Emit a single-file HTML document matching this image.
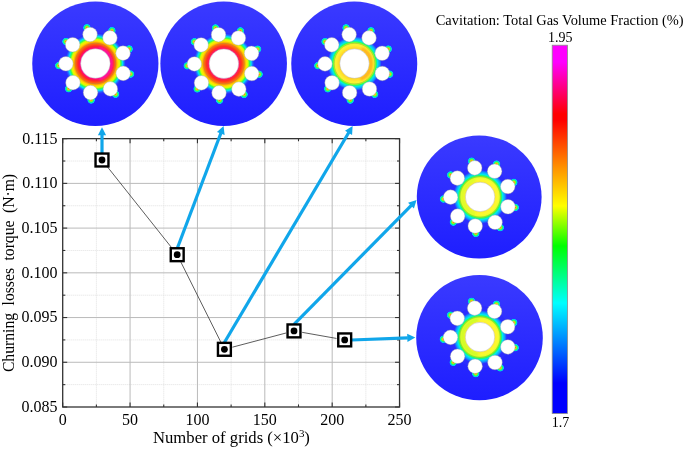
<!DOCTYPE html>
<html lang="en"><head><meta charset="utf-8"><title>Grid independence</title>
<style>html,body{margin:0;padding:0;background:#fff}svg{display:block}text{font-family:"Liberation Serif","Times New Roman",serif;fill:#000}</style></head><body>
<svg width="685" height="449" viewBox="0 0 685 449">
<defs>
<linearGradient id="bg" x1="0" y1="0" x2="0" y2="1"><stop offset="0" stop-color="#3a3aff"/><stop offset="1" stop-color="#1e1eff"/></linearGradient>
<radialGradient id="r1" gradientUnits="objectBoundingBox" cx="0.5" cy="0.5" r="0.5"><stop offset="0" stop-color="#ff10a0"/><stop offset="0.4742" stop-color="#ff10a0"/><stop offset="0.5129" stop-color="#ff1060"/><stop offset="0.5581" stop-color="#ff2828"/><stop offset="0.6194" stop-color="#ff5a10"/><stop offset="0.6710" stop-color="#ff9800"/><stop offset="0.7258" stop-color="#ffe000"/><stop offset="0.7774" stop-color="#d8ff00"/><stop offset="0.8258" stop-color="#30ff50"/><stop offset="0.8774" stop-color="#00e0ff"/><stop offset="0.9258" stop-color="#2070ff"/><stop offset="0.9742" stop-color="#2c2cff"/></radialGradient>
<radialGradient id="r2" gradientUnits="objectBoundingBox" cx="0.5" cy="0.5" r="0.5"><stop offset="0" stop-color="#ff1880"/><stop offset="0.4742" stop-color="#ff1880"/><stop offset="0.5129" stop-color="#ff2048"/><stop offset="0.5581" stop-color="#ff3020"/><stop offset="0.6194" stop-color="#ff6010"/><stop offset="0.6710" stop-color="#ffa000"/><stop offset="0.7258" stop-color="#ffe400"/><stop offset="0.7774" stop-color="#d8ff00"/><stop offset="0.8258" stop-color="#30ff50"/><stop offset="0.8774" stop-color="#00e0ff"/><stop offset="0.9258" stop-color="#2070ff"/><stop offset="0.9742" stop-color="#2c2cff"/></radialGradient>
<radialGradient id="r3" gradientUnits="objectBoundingBox" cx="0.5" cy="0.5" r="0.5"><stop offset="0" stop-color="#ffd428"/><stop offset="0.4742" stop-color="#ffd428"/><stop offset="0.5323" stop-color="#ffe02c"/><stop offset="0.5806" stop-color="#ffee30"/><stop offset="0.6323" stop-color="#f4f830"/><stop offset="0.6645" stop-color="#b0ff20"/><stop offset="0.6968" stop-color="#30ff50"/><stop offset="0.7419" stop-color="#00e8e8"/><stop offset="0.8065" stop-color="#10a0ff"/><stop offset="0.8710" stop-color="#2c2cff"/><stop offset="0.9355" stop-color="#2c2cff"/></radialGradient>
<radialGradient id="r4" gradientUnits="objectBoundingBox" cx="0.5" cy="0.5" r="0.5"><stop offset="0" stop-color="#fff030"/><stop offset="0.4742" stop-color="#fff030"/><stop offset="0.5645" stop-color="#fcf830"/><stop offset="0.6194" stop-color="#e8ff28"/><stop offset="0.6548" stop-color="#98ff20"/><stop offset="0.6871" stop-color="#20ff60"/><stop offset="0.7290" stop-color="#00e8f0"/><stop offset="0.7935" stop-color="#10a0ff"/><stop offset="0.8645" stop-color="#2c2cff"/><stop offset="0.9355" stop-color="#2c2cff"/></radialGradient>
<radialGradient id="sp"><stop offset="0" stop-color="#ff4000"/><stop offset="0.2" stop-color="#ffc800"/><stop offset="0.42" stop-color="#70ff30"/><stop offset="0.62" stop-color="#00f0a0"/><stop offset="0.82" stop-color="#00c8ff"/><stop offset="1" stop-color="#2c2cff" stop-opacity="0"/></radialGradient><filter id="bl" x="-50%" y="-50%" width="200%" height="200%"><feGaussianBlur stdDeviation="0.8"/></filter>
<linearGradient id="cb" x1="0" y1="0" x2="0" y2="1"><stop offset="0.0000" stop-color="#ff00ff"/><stop offset="0.0456" stop-color="#ff00ff"/><stop offset="0.1868" stop-color="#ff0000"/><stop offset="0.2031" stop-color="#ff0000"/><stop offset="0.3307" stop-color="#ff9000"/><stop offset="0.4366" stop-color="#ffff00"/><stop offset="0.5452" stop-color="#00ff00"/><stop offset="0.7000" stop-color="#00ffff"/><stop offset="0.9172" stop-color="#0000ff"/><stop offset="1.0000" stop-color="#0000ff"/></linearGradient>
</defs>
<rect width="685" height="449" fill="#fff"/>
<g><line x1="96.39" y1="138.65" x2="96.39" y2="407.0" stroke="#e0e0e0" stroke-width="1" stroke-dasharray="1 1"/><line x1="163.75" y1="138.65" x2="163.75" y2="407.0" stroke="#e0e0e0" stroke-width="1" stroke-dasharray="1 1"/><line x1="231.12" y1="138.65" x2="231.12" y2="407.0" stroke="#e0e0e0" stroke-width="1" stroke-dasharray="1 1"/><line x1="298.50" y1="138.65" x2="298.50" y2="407.0" stroke="#e0e0e0" stroke-width="1" stroke-dasharray="1 1"/><line x1="365.87" y1="138.65" x2="365.87" y2="407.0" stroke="#e0e0e0" stroke-width="1" stroke-dasharray="1 1"/><line x1="62.7" y1="161.01" x2="399.55" y2="161.01" stroke="#e0e0e0" stroke-width="1" stroke-dasharray="1 1"/><line x1="62.7" y1="205.74" x2="399.55" y2="205.74" stroke="#e0e0e0" stroke-width="1" stroke-dasharray="1 1"/><line x1="62.7" y1="250.46" x2="399.55" y2="250.46" stroke="#e0e0e0" stroke-width="1" stroke-dasharray="1 1"/><line x1="62.7" y1="295.19" x2="399.55" y2="295.19" stroke="#e0e0e0" stroke-width="1" stroke-dasharray="1 1"/><line x1="62.7" y1="339.91" x2="399.55" y2="339.91" stroke="#e0e0e0" stroke-width="1" stroke-dasharray="1 1"/><line x1="62.7" y1="384.64" x2="399.55" y2="384.64" stroke="#e0e0e0" stroke-width="1" stroke-dasharray="1 1"/><line x1="130.07" y1="138.65" x2="130.07" y2="407.0" stroke="#bababa" stroke-width="1"/><line x1="197.44" y1="138.65" x2="197.44" y2="407.0" stroke="#bababa" stroke-width="1"/><line x1="264.81" y1="138.65" x2="264.81" y2="407.0" stroke="#bababa" stroke-width="1"/><line x1="332.18" y1="138.65" x2="332.18" y2="407.0" stroke="#bababa" stroke-width="1"/><line x1="62.7" y1="183.38" x2="399.55" y2="183.38" stroke="#bababa" stroke-width="1"/><line x1="62.7" y1="228.10" x2="399.55" y2="228.10" stroke="#bababa" stroke-width="1"/><line x1="62.7" y1="272.83" x2="399.55" y2="272.83" stroke="#bababa" stroke-width="1"/><line x1="62.7" y1="317.55" x2="399.55" y2="317.55" stroke="#bababa" stroke-width="1"/><line x1="62.7" y1="362.28" x2="399.55" y2="362.28" stroke="#bababa" stroke-width="1"/></g>
<g stroke="#333" stroke-width="1.1"><line x1="62.70" y1="407.0" x2="62.70" y2="402.5"/><line x1="62.70" y1="138.65" x2="62.70" y2="143.15"/><line x1="96.39" y1="407.0" x2="96.39" y2="404.4"/><line x1="96.39" y1="138.65" x2="96.39" y2="141.25"/><line x1="130.07" y1="407.0" x2="130.07" y2="402.5"/><line x1="130.07" y1="138.65" x2="130.07" y2="143.15"/><line x1="163.75" y1="407.0" x2="163.75" y2="404.4"/><line x1="163.75" y1="138.65" x2="163.75" y2="141.25"/><line x1="197.44" y1="407.0" x2="197.44" y2="402.5"/><line x1="197.44" y1="138.65" x2="197.44" y2="143.15"/><line x1="231.12" y1="407.0" x2="231.12" y2="404.4"/><line x1="231.12" y1="138.65" x2="231.12" y2="141.25"/><line x1="264.81" y1="407.0" x2="264.81" y2="402.5"/><line x1="264.81" y1="138.65" x2="264.81" y2="143.15"/><line x1="298.50" y1="407.0" x2="298.50" y2="404.4"/><line x1="298.50" y1="138.65" x2="298.50" y2="141.25"/><line x1="332.18" y1="407.0" x2="332.18" y2="402.5"/><line x1="332.18" y1="138.65" x2="332.18" y2="143.15"/><line x1="365.87" y1="407.0" x2="365.87" y2="404.4"/><line x1="365.87" y1="138.65" x2="365.87" y2="141.25"/><line x1="399.55" y1="407.0" x2="399.55" y2="402.5"/><line x1="399.55" y1="138.65" x2="399.55" y2="143.15"/><line x1="62.7" y1="407.00" x2="67.2" y2="407.00"/><line x1="399.55" y1="407.00" x2="395.05" y2="407.00"/><line x1="62.7" y1="384.64" x2="65.3" y2="384.64"/><line x1="399.55" y1="384.64" x2="396.95" y2="384.64"/><line x1="62.7" y1="362.27" x2="67.2" y2="362.27"/><line x1="399.55" y1="362.27" x2="395.05" y2="362.27"/><line x1="62.7" y1="339.91" x2="65.3" y2="339.91"/><line x1="399.55" y1="339.91" x2="396.95" y2="339.91"/><line x1="62.7" y1="317.55" x2="67.2" y2="317.55"/><line x1="399.55" y1="317.55" x2="395.05" y2="317.55"/><line x1="62.7" y1="295.19" x2="65.3" y2="295.19"/><line x1="399.55" y1="295.19" x2="396.95" y2="295.19"/><line x1="62.7" y1="272.83" x2="67.2" y2="272.83"/><line x1="399.55" y1="272.83" x2="395.05" y2="272.83"/><line x1="62.7" y1="250.46" x2="65.3" y2="250.46"/><line x1="399.55" y1="250.46" x2="396.95" y2="250.46"/><line x1="62.7" y1="228.10" x2="67.2" y2="228.10"/><line x1="399.55" y1="228.10" x2="395.05" y2="228.10"/><line x1="62.7" y1="205.74" x2="65.3" y2="205.74"/><line x1="399.55" y1="205.74" x2="396.95" y2="205.74"/><line x1="62.7" y1="183.37" x2="67.2" y2="183.37"/><line x1="399.55" y1="183.37" x2="395.05" y2="183.37"/><line x1="62.7" y1="161.01" x2="65.3" y2="161.01"/><line x1="399.55" y1="161.01" x2="396.95" y2="161.01"/><line x1="62.7" y1="138.65" x2="67.2" y2="138.65"/><line x1="399.55" y1="138.65" x2="395.05" y2="138.65"/></g>
<rect x="62.7" y="138.65" width="336.85" height="268.35" fill="none" stroke="#333" stroke-width="1.3"/>
<text x="62.70" y="425.3" font-size="16" text-anchor="middle">0</text>
<text x="130.07" y="425.3" font-size="16" text-anchor="middle">50</text>
<text x="197.44" y="425.3" font-size="16" text-anchor="middle">100</text>
<text x="264.81" y="425.3" font-size="16" text-anchor="middle">150</text>
<text x="332.18" y="425.3" font-size="16" text-anchor="middle">200</text>
<text x="399.55" y="425.3" font-size="16" text-anchor="middle">250</text>
<text x="57.6" y="143.55" font-size="16" text-anchor="end">0.115</text>
<text x="57.6" y="188.28" font-size="16" text-anchor="end">0.110</text>
<text x="57.6" y="233.00" font-size="16" text-anchor="end">0.105</text>
<text x="57.6" y="277.73" font-size="16" text-anchor="end">0.100</text>
<text x="57.6" y="322.45" font-size="16" text-anchor="end">0.095</text>
<text x="57.6" y="367.18" font-size="16" text-anchor="end">0.090</text>
<text x="57.6" y="411.90" font-size="16" text-anchor="end">0.085</text>
<text transform="translate(231.45 442.6) scale(1.042 1)" font-size="16" text-anchor="middle">Number of grids (×10<tspan font-size="10.5" dy="-6">3</tspan><tspan dy="6">)</tspan></text>
<text transform="translate(14.3 273) rotate(-90) scale(1 1.06)" font-size="15.7" word-spacing="3.5" text-anchor="middle">Churning losses torque (N·m)</text>
<g stroke="#333" stroke-width="0.8"><line x1="107.16" y1="166.50" x2="172.04" y2="248.20"/><line x1="180.91" y1="262.13" x2="220.69" y2="341.87"/><line x1="232.42" y1="347.18" x2="285.98" y2="333.02"/><line x1="302.17" y1="332.35" x2="336.53" y2="338.45"/></g>
<ellipse cx="95.35" cy="63.75" rx="63.1" ry="62.2" fill="url(#bg)"/><circle cx="95.4" cy="63.5" r="31.0" fill="url(#r1)"/><path d="M99.64 79.34A16.4 16.4 0 0 0 99.64 47.66" fill="none" stroke="#ff10b8" stroke-width="2.4" stroke-opacity="0.85" stroke-linecap="round" filter="url(#bl)"/><circle cx="95.4" cy="63.5" r="20.3" fill="none" stroke="#807060" stroke-opacity="0.55" stroke-width="0.5"/><circle cx="129.13" cy="48.98" r="4.2" fill="url(#sp)"/><circle cx="111.90" cy="30.69" r="4.2" fill="url(#sp)"/><circle cx="86.96" cy="27.76" r="4.2" fill="url(#sp)"/><circle cx="65.96" cy="41.55" r="4.2" fill="url(#sp)"/><circle cx="58.74" cy="65.61" r="4.2" fill="url(#sp)"/><circle cx="68.67" cy="88.68" r="4.2" fill="url(#sp)"/><circle cx="91.11" cy="99.97" r="4.2" fill="url(#sp)"/><circle cx="115.56" cy="94.20" r="4.2" fill="url(#sp)"/><circle cx="130.57" cy="74.06" r="4.2" fill="url(#sp)"/><g fill="#fff" stroke="#999" stroke-width="0.4"><circle cx="123.03" cy="53.17" r="7.3"/><circle cx="109.93" cy="37.82" r="7.3"/><circle cx="90.02" cy="34.49" r="7.3"/><circle cx="72.64" cy="44.74" r="7.3"/><circle cx="65.90" cy="63.76" r="7.3"/><circle cx="72.97" cy="82.66" r="7.3"/><circle cx="90.53" cy="92.60" r="7.3"/><circle cx="110.37" cy="88.92" r="7.3"/><circle cx="123.21" cy="73.35" r="7.3"/></g><circle cx="95.4" cy="63.5" r="14.75" fill="#fff" stroke="#aaa" stroke-width="0.4"/>
<ellipse cx="223.65" cy="63.75" rx="63.3" ry="62.3" fill="url(#bg)"/><circle cx="223.9" cy="63.7" r="31.0" fill="url(#r2)"/><circle cx="223.9" cy="63.7" r="20.3" fill="none" stroke="#807060" stroke-opacity="0.55" stroke-width="0.5"/><circle cx="257.63" cy="49.18" r="4.2" fill="url(#sp)"/><circle cx="240.40" cy="30.89" r="4.2" fill="url(#sp)"/><circle cx="215.46" cy="27.96" r="4.2" fill="url(#sp)"/><circle cx="194.46" cy="41.75" r="4.2" fill="url(#sp)"/><circle cx="187.24" cy="65.81" r="4.2" fill="url(#sp)"/><circle cx="197.17" cy="88.88" r="4.2" fill="url(#sp)"/><circle cx="219.61" cy="100.17" r="4.2" fill="url(#sp)"/><circle cx="244.06" cy="94.40" r="4.2" fill="url(#sp)"/><circle cx="259.07" cy="74.26" r="4.2" fill="url(#sp)"/><g fill="#fff" stroke="#999" stroke-width="0.4"><circle cx="251.53" cy="53.37" r="7.3"/><circle cx="238.43" cy="38.02" r="7.3"/><circle cx="218.52" cy="34.69" r="7.3"/><circle cx="201.14" cy="44.94" r="7.3"/><circle cx="194.40" cy="63.96" r="7.3"/><circle cx="201.47" cy="82.86" r="7.3"/><circle cx="219.03" cy="92.80" r="7.3"/><circle cx="238.87" cy="89.12" r="7.3"/><circle cx="251.71" cy="73.55" r="7.3"/></g><circle cx="223.9" cy="63.7" r="14.75" fill="#fff" stroke="#aaa" stroke-width="0.4"/>
<ellipse cx="354.25" cy="63.75" rx="63.0" ry="62.3" fill="url(#bg)"/><circle cx="354.5" cy="63.6" r="31.0" fill="url(#r3)"/><path d="M361.60 78.83A16.8 16.8 0 0 0 362.90 49.05" fill="none" stroke="#ffa418" stroke-width="3.2" stroke-opacity="0.8" stroke-linecap="round" filter="url(#bl)"/><circle cx="354.5" cy="63.6" r="20.3" fill="none" stroke="#807060" stroke-opacity="0.55" stroke-width="0.5"/><circle cx="388.23" cy="49.08" r="4.2" fill="url(#sp)"/><circle cx="371.00" cy="30.79" r="4.2" fill="url(#sp)"/><circle cx="346.06" cy="27.86" r="4.2" fill="url(#sp)"/><circle cx="325.06" cy="41.65" r="4.2" fill="url(#sp)"/><circle cx="317.84" cy="65.71" r="4.2" fill="url(#sp)"/><circle cx="327.77" cy="88.78" r="4.2" fill="url(#sp)"/><circle cx="350.21" cy="100.07" r="4.2" fill="url(#sp)"/><circle cx="374.66" cy="94.30" r="4.2" fill="url(#sp)"/><circle cx="389.67" cy="74.16" r="4.2" fill="url(#sp)"/><g fill="#fff" stroke="#999" stroke-width="0.4"><circle cx="382.13" cy="53.27" r="7.3"/><circle cx="369.03" cy="37.92" r="7.3"/><circle cx="349.12" cy="34.59" r="7.3"/><circle cx="331.74" cy="44.84" r="7.3"/><circle cx="325.00" cy="63.86" r="7.3"/><circle cx="332.07" cy="82.76" r="7.3"/><circle cx="349.63" cy="92.70" r="7.3"/><circle cx="369.47" cy="89.02" r="7.3"/><circle cx="382.31" cy="73.45" r="7.3"/></g><circle cx="354.5" cy="63.6" r="14.75" fill="#fff" stroke="#aaa" stroke-width="0.4"/>
<ellipse cx="479.2" cy="197.0" rx="62.4" ry="61.6" fill="url(#bg)"/><circle cx="480.1" cy="196.9" r="31.0" fill="url(#r4)"/><path d="M474.08 180.36A17.6 17.6 0 0 0 474.08 213.44" fill="none" stroke="#c4ff24" stroke-width="3.0" stroke-opacity="0.6" stroke-linecap="round" filter="url(#bl)"/><circle cx="480.1" cy="196.9" r="20.3" fill="none" stroke="#807060" stroke-opacity="0.55" stroke-width="0.5"/><circle cx="513.83" cy="182.38" r="4.2" fill="url(#sp)"/><circle cx="496.60" cy="164.09" r="4.2" fill="url(#sp)"/><circle cx="471.66" cy="161.16" r="4.2" fill="url(#sp)"/><circle cx="450.66" cy="174.95" r="4.2" fill="url(#sp)"/><circle cx="443.44" cy="199.01" r="4.2" fill="url(#sp)"/><circle cx="453.37" cy="222.08" r="4.2" fill="url(#sp)"/><circle cx="475.81" cy="233.37" r="4.2" fill="url(#sp)"/><circle cx="500.26" cy="227.60" r="4.2" fill="url(#sp)"/><circle cx="515.27" cy="207.46" r="4.2" fill="url(#sp)"/><g fill="#fff" stroke="#999" stroke-width="0.4"><circle cx="507.73" cy="186.57" r="7.3"/><circle cx="494.63" cy="171.22" r="7.3"/><circle cx="474.72" cy="167.89" r="7.3"/><circle cx="457.34" cy="178.14" r="7.3"/><circle cx="450.60" cy="197.16" r="7.3"/><circle cx="457.67" cy="216.06" r="7.3"/><circle cx="475.23" cy="226.00" r="7.3"/><circle cx="495.07" cy="222.32" r="7.3"/><circle cx="507.91" cy="206.75" r="7.3"/></g><circle cx="480.1" cy="196.9" r="14.75" fill="#fff" stroke="#aaa" stroke-width="0.4"/>
<ellipse cx="479.5" cy="337.65" rx="63.3" ry="62.6" fill="url(#bg)"/><circle cx="480.0" cy="337.1" r="31.0" fill="url(#r4)"/><path d="M476.98 319.96A17.4 17.4 0 0 0 476.98 354.24" fill="none" stroke="#b8ff24" stroke-width="3.4" stroke-opacity="0.7" stroke-linecap="round" filter="url(#bl)"/><circle cx="480.0" cy="337.1" r="20.3" fill="none" stroke="#807060" stroke-opacity="0.55" stroke-width="0.5"/><circle cx="513.73" cy="322.58" r="4.2" fill="url(#sp)"/><circle cx="496.50" cy="304.29" r="4.2" fill="url(#sp)"/><circle cx="471.56" cy="301.36" r="4.2" fill="url(#sp)"/><circle cx="450.56" cy="315.15" r="4.2" fill="url(#sp)"/><circle cx="443.34" cy="339.21" r="4.2" fill="url(#sp)"/><circle cx="453.27" cy="362.28" r="4.2" fill="url(#sp)"/><circle cx="475.71" cy="373.57" r="4.2" fill="url(#sp)"/><circle cx="500.16" cy="367.80" r="4.2" fill="url(#sp)"/><circle cx="515.17" cy="347.66" r="4.2" fill="url(#sp)"/><g fill="#fff" stroke="#999" stroke-width="0.4"><circle cx="507.63" cy="326.77" r="7.3"/><circle cx="494.53" cy="311.42" r="7.3"/><circle cx="474.62" cy="308.09" r="7.3"/><circle cx="457.24" cy="318.34" r="7.3"/><circle cx="450.50" cy="337.36" r="7.3"/><circle cx="457.57" cy="356.26" r="7.3"/><circle cx="475.13" cy="366.20" r="7.3"/><circle cx="494.97" cy="362.52" r="7.3"/><circle cx="507.81" cy="346.95" r="7.3"/></g><circle cx="480.0" cy="337.1" r="14.75" fill="#fff" stroke="#aaa" stroke-width="0.4"/>
<line x1="102.00" y1="154.00" x2="102.00" y2="134.80" stroke="#10a6ea" stroke-width="3.2"/><polygon points="102.00,127.30 106.10,135.30 97.90,135.30" fill="#10a6ea"/>
<line x1="177.40" y1="248.00" x2="220.94" y2="133.01" stroke="#10a6ea" stroke-width="3.2"/><polygon points="223.60,126.00 224.60,134.93 216.93,132.03" fill="#10a6ea"/>
<line x1="224.40" y1="342.50" x2="348.78" y2="132.45" stroke="#10a6ea" stroke-width="3.2"/><polygon points="352.60,126.00 352.05,134.97 345.00,130.79" fill="#10a6ea"/>
<line x1="294.00" y1="324.30" x2="411.33" y2="205.34" stroke="#10a6ea" stroke-width="3.2"/><polygon points="416.60,200.00 413.90,208.57 408.06,202.82" fill="#10a6ea"/>
<line x1="351.50" y1="340.00" x2="407.81" y2="337.88" stroke="#10a6ea" stroke-width="3.2"/><polygon points="415.30,337.60 407.46,342.00 407.15,333.80" fill="#10a6ea"/>
<rect x="95.55" y="153.55" width="12.9" height="12.9" fill="#fff" stroke="#000" stroke-width="2.4"/><circle cx="102.0" cy="160.0" r="3.4" fill="#000"/>
<rect x="170.75" y="248.25" width="12.9" height="12.9" fill="#fff" stroke="#000" stroke-width="2.4"/><circle cx="177.2" cy="254.7" r="3.4" fill="#000"/>
<rect x="217.95" y="342.85" width="12.9" height="12.9" fill="#fff" stroke="#000" stroke-width="2.4"/><circle cx="224.4" cy="349.3" r="3.4" fill="#000"/>
<rect x="287.55" y="324.45" width="12.9" height="12.9" fill="#fff" stroke="#000" stroke-width="2.4"/><circle cx="294.0" cy="330.9" r="3.4" fill="#000"/>
<rect x="338.25" y="333.45" width="12.9" height="12.9" fill="#fff" stroke="#000" stroke-width="2.4"/><circle cx="344.7" cy="339.9" r="3.4" fill="#000"/>
<rect x="552.2" y="45.2" width="15.2" height="368.3" fill="url(#cb)" stroke="#8a8a8a" stroke-width="0.8"/>
<text transform="translate(559.7 24.5) scale(0.9625 1)" font-size="15" text-anchor="middle">Cavitation: Total Gas Volume Fraction (%)</text>
<text x="560.2" y="41.7" font-size="14" text-anchor="middle">1.95</text>
<text x="560.5" y="427.2" font-size="14" text-anchor="middle">1.7</text>
</svg></body></html>
